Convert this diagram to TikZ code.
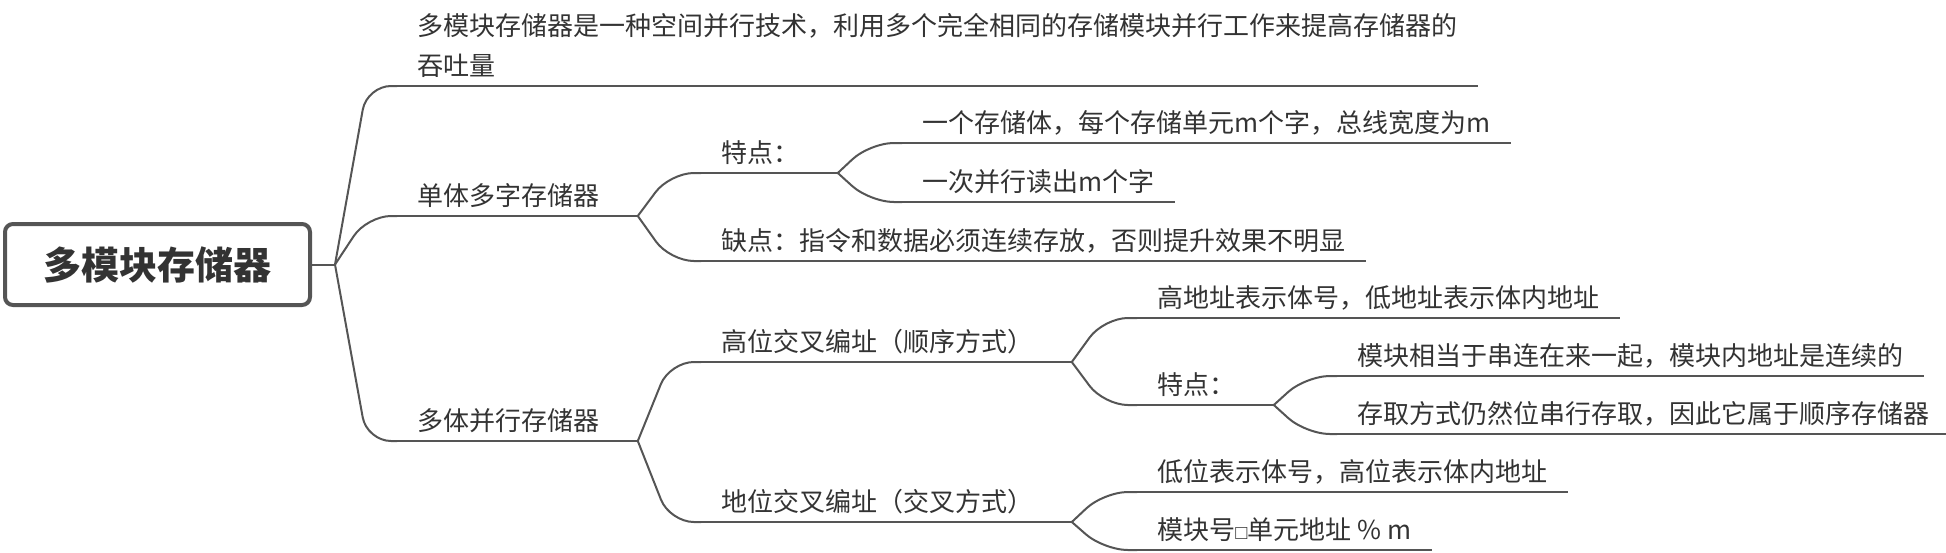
\documentclass[tikz,border=0pt]{standalone}
\usepackage{fontspec}
\setmainfont{Noto Sans CJK SC}
\newfontfamily\boxfont{Liberation Sans}
\usetikzlibrary{positioning,calc}
\definecolor{linegray}{HTML}{555555}
\definecolor{textgray}{HTML}{333333}
\tikzstyle{root}=[draw=linegray, line width=2pt, rounded corners=4pt, minimum width=152.5pt, minimum height=40.5pt, text=textgray, font=\fontsize{19pt}{23pt}\selectfont\bfseries]
\tikzstyle{topic}=[anchor=south west, inner xsep=10pt, inner ysep=5.3pt, text depth=0pt, text=textgray, font=\fontsize{13pt}{20pt}\selectfont]
\tikzstyle{uline}=[draw=linegray, line width=1pt]
\tikzstyle{branch}=[draw=linegray, line width=1pt, rounded corners=12pt]

\begin{document}
\begin{tikzpicture}[x=0.5pt,y=-0.5pt]
\useasboundingbox (0,0) rectangle (1946,552);
\node[root] (root) at (157.5,264.5) {多模块存储器};
\coordinate[right=11.5pt of root.east] (hub0);
\draw[uline] (root) -- (hub0);

% first level
\node[topic] (desc) at (397,86) {\begin{tabular}[b]{@{}l@{}}多模块存储器是一种空间并行技术，利用多个完全相同的存储模块并行工作来提高存储器的\\吞吐量\end{tabular}};
\node[topic] (single) at (397,216) {单体多字存储器};
\node[topic] (multi) at (397,441) {多体并行存储器};

% single body, several words
\node[topic] (feat1) at (701,173) {特点：};
\node[topic] (flaw) at (701,261) {缺点：指令和数据必须连续存放，否则提升效果不明显};
\node[topic] (word1) at (902,143) {一个存储体，每个存储单元m个字，总线宽度为m};
\node[topic] (word2) at (902,202) {一次并行读出m个字};

% several bodies in parallel
\node[topic] (high) at (701,362) {高位交叉编址（顺序方式）};
\node[topic] (low) at (701,522) {地位交叉编址（交叉方式）};
\node[topic] (high1) at (1137,318) {高地址表示体号，低地址表示体内地址};
\node[topic] (feat2) at (1137,405) {特点：};
\node[topic] (seq1) at (1337,376) {模块相当于串连在来一起，模块内地址是连续的};
\node[topic] (seq2) at (1337,434) {存取方式仍然位串行存取，因此它属于顺序存储器};
\node[topic] (low1) at (1137,492) {低位表示体号，高位表示体内地址};
\node[topic] (low2) at (1137,550) {模块号{\boxfont\fontsize{10pt}{12pt}\selectfont □}单元地址 \% m};

% underlines
\foreach \n in {desc,single,multi,feat1,flaw,word1,word2,high,low,high1,feat2,seq1,seq2,low1,low2}
  \draw[uline] (\n.south west) -- (\n.south east);

% hubs
\foreach \n/\h in {single/hub1,multi/hub2,feat1/hub3,high/hub4,feat2/hub5,low/hub6}{
  \coordinate[right=9pt of \n.south east] (\h);
  \draw[uline] (\n.south east) -- (\h);
}

% branches
\foreach \h/\c in {hub0/desc,hub0/single,hub0/multi,hub1/feat1,hub1/flaw,hub3/word1,hub3/word2,hub2/high,hub2/low,hub4/high1,hub4/feat2,hub5/seq1,hub5/seq2,hub6/low1,hub6/low2}
  \draw[branch] (\h) -- ($(\h |- \c.south west)+(32,0)$) -- (\c.south west);
\end{tikzpicture}
\end{document}
